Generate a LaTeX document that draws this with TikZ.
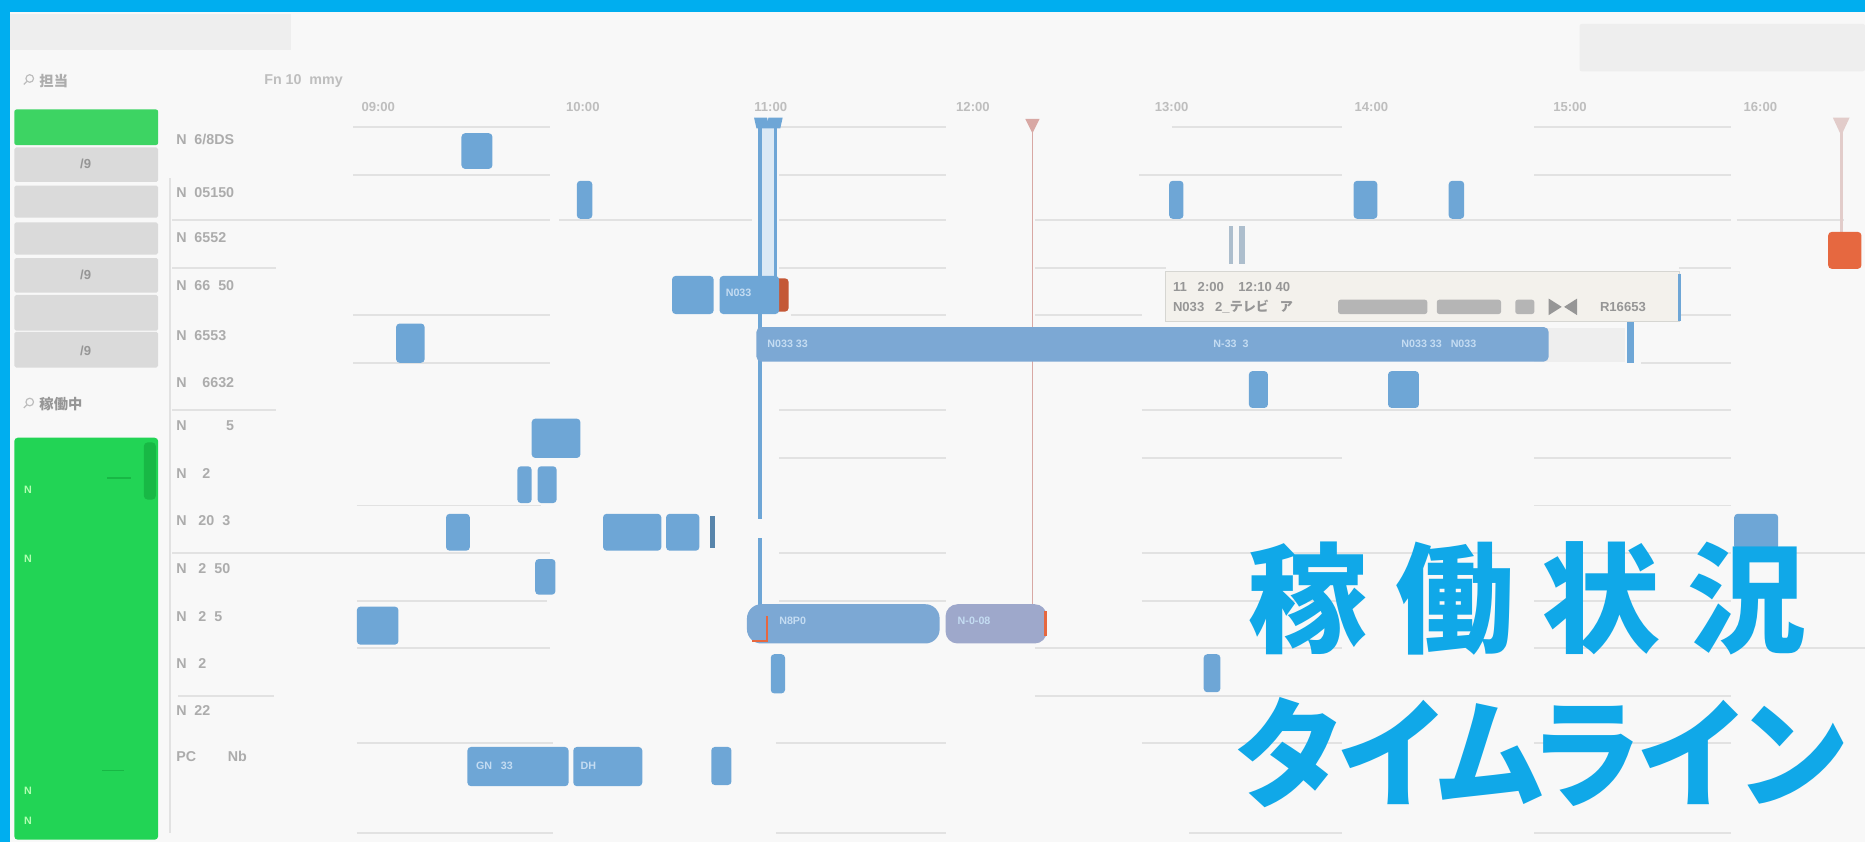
\documentclass[tikz,border=0pt]{standalone}
\usepackage{fontspec}
\setmainfont{Liberation Sans}
\newfontfamily\cjk{Noto Sans CJK JP}
\newfontfamily\cjkt[RawFeature=+palt]{Noto Sans CJK JP}
\definecolor{cyanb}{RGB}{0,174,239}
\definecolor{bgc}{RGB}{248,248,248}
\definecolor{gridc}{RGB}{226,226,226}
\definecolor{lblc}{RGB}{172,172,172}
\definecolor{timec}{RGB}{190,190,190}
\definecolor{barb}{RGB}{110,166,214}
\definecolor{barb2}{RGB}{124,168,212}
\definecolor{barpur}{RGB}{158,168,203}
\definecolor{bartxt}{RGB}{196,220,242}
\definecolor{greenA}{RGB}{61,212,99}
\definecolor{greenB}{RGB}{34,212,85}
\definecolor{greenD}{RGB}{24,184,69}
\definecolor{greyBox}{RGB}{218,218,218}
\definecolor{topBox}{RGB}{238,238,238}
\definecolor{orangeR}{RGB}{230,104,64}
\definecolor{pinkL}{RGB}{216,168,164}
\definecolor{pinkH}{RGB}{226,204,202}
\definecolor{tipfill}{RGB}{243,241,236}
\definecolor{tipedge}{RGB}{214,214,210}
\definecolor{tiptxt}{RGB}{150,150,150}
\definecolor{titlec}{RGB}{16,168,232}
\begin{document}
\begin{tikzpicture}[x=1pt,y=-1pt,
  grid/.style={draw=gridc,line width=1.6pt},
  lbl/.style={anchor=west,text=lblc,font=\bfseries\fontsize{12}{12}\selectfont,inner sep=0pt},
  tlbl/.style={text=timec,font=\bfseries\fontsize{11}{11}\selectfont,inner sep=0pt},
  bluebar/.style={fill=barb,rounded corners=3pt},
  bigbar/.style={fill=barb2,rounded corners=4pt},
  btxt/.style={anchor=west,text=bartxt,font=\bfseries\fontsize{9}{9}\selectfont,inner sep=0pt},
  sidebox/.style={fill=greyBox,rounded corners=1.5pt},
  sidetxt/.style={text=tiptxt,font=\bfseries\fontsize{11}{11}\selectfont,inner sep=0pt},
  ntxt/.style={anchor=west,text=green!30!white,font=\bfseries\fontsize{9}{9}\selectfont,inner sep=0pt},
  tip/.style={anchor=west,text=tiptxt,font=\bfseries\fontsize{11}{11}\selectfont,inner sep=0pt},
  blob/.style={fill=tiptxt!70!white,rounded corners=2pt},
  ttl/.style={text=titlec,font=\cjk\bfseries\fontsize{100}{100}\selectfont,inner sep=0pt},
  ttl2/.style={text=titlec,font=\cjkt\bfseries\fontsize{100}{100}\selectfont,inner sep=0pt}]
\useasboundingbox (0,0) rectangle (1568,708);
\fill[bgc] (0,0) rectangle (1568,708);
\fill[cyanb] (0,0) rectangle (1568,10);
\fill[cyanb] (0,0) rectangle (8,708);
% top boxes
\fill[topBox] (8,12) rectangle (245,42);
\fill[topBox,rounded corners=2pt] (1328,20) rectangle (1568,60);
% top labels
\draw[lblc!80!white,line width=1pt] (25,66) circle (3.2);
\draw[lblc!80!white,line width=1pt] (22.5,68.5) -- (20,71);
\node[lbl] (tant) at (33,68) {{\cjk 担当}};
\node[lbl,text=timec] (fn) at (222,68) {Fn 10\ \ mmy};
% time labels
\foreach \x/\t [count=\i] in {318/09:00,490/10:00,648/11:00,818/12:00,985/13:00,1153/14:00,1320/15:00,1480/16:00}
  \node[tlbl] (time\i) at (\x,90) {\t};
% grid segments
\foreach \y/\a/\b in {107/297/462,107/652/795,107/985/1128,107/1290/1455,
  147/297/462,147/655/795,147/958/1128,147/1290/1455,
  185/145/462,185/470/632,185/655/795,185/870/960,185/960/1128,185/1128/1290,185/1290/1455,185/1460/1550,
  225/145/232,225/655/795,225/870/960,225/960/980,225/1412/1455,
  265/297/462,265/665/795,265/870/960,265/1412/1455,
  305/297/462,305/1380/1455,
  345/145/232,345/655/795,345/960/1128,345/1128/1290,345/1290/1455,
  385/655/795,385/960/1128,385/1290/1455,
  425/300/455,425/1290/1455,
  465/145/462,465/655/795,465/960/1128,465/1128/1290,465/1290/1455,465/1460/1568,
  505/300/460,505/655/795,505/960/1128,505/1290/1455,
  545/300/462,545/870/1128,545/1290/1455,545/1460/1568,
  585/150/230,585/870/1128,585/1128/1290,585/1290/1455,
  625/300/465,625/652/795,625/960/1128,625/1290/1455,
  700/300/465,700/652/795,700/1000/1128,700/1290/1455}
  \draw[grid] (\a,\y) -- (\b,\y);
\draw[gridc,line width=1.2pt] (143,150) -- (143,700);
% sidebar
\fill[greenA,rounded corners=2pt] (12,92) rectangle (133,122);
\foreach \a/\b in {124/153,156/183,187/214,217/246,248/278,279/309}
  \fill[sidebox] (12,\a) rectangle (133,\b);
\node[sidetxt] (s1) at (72,138) {/9};
\node[sidetxt] (s4) at (72,231) {/9};
\node[sidetxt] (s6) at (72,295) {/9};
\draw[lblc!80!white,line width=1pt] (25,338) circle (3.2);
\draw[lblc!80!white,line width=1pt] (22.5,340.5) -- (20,343);
\node[lbl,text=tiptxt] (kado) at (33,340) {{\cjk 稼働中}};
\fill[greenB,rounded corners=3pt] (12,368) rectangle (133,706);
\fill[greenD,rounded corners=3pt] (121,372) rectangle (131,420);
\draw[greenD,line width=1.2pt] (90,402) -- (110,402);
\draw[greenD,line width=1.2pt] (86,648) -- (104,648);
\node[ntxt] (n1) at (20,412) {N};
\node[ntxt] (n2) at (20,470) {N};
\node[ntxt] (n3) at (20,665) {N};
\node[ntxt] (n4) at (20,690) {N};
% row labels
\foreach \y/\t [count=\i] in {117/{N\ \ 6/8DS},162/{N\ \ 05150},200/{N\ \ 6552},240/{N\ \ 66\ \ 50},282/{N\ \ 6553},322/{N\ \ \ \ 6632},358/{N\ \ \ \ \ \ \ \ \ \ 5},398/{N\ \ \ \ 2},438/{N\ \ \ 20\ \ 3},478/{N\ \ \ 2\ \ 50},518/{N\ \ \ 2\ \ 5},558/{N\ \ \ 2},597/{N\ \ 22},636/{PC\ \ \ \ \ \ \ \ Nb}}
  \node[lbl] (row\i) at (148,\y) {\t};
% vertical markers
\fill[barb!25!white] (639,100) rectangle (652,240);
\draw[barb,line width=3pt] (639,101) -- (639,525);
\draw[barb,line width=3pt] (652,101) -- (652,240);
\fill[barb] (634,99) -- (645,99) -- (645.5,103) -- (646,99) -- (658,99) -- (656,108) -- (636,108) -- cycle;
\draw[pinkL,line width=1.5pt] (868,106) -- (868,525);
\fill[pinkL] (862,100) -- (874,100) -- (868,112) -- cycle;
\draw[pinkH,line width=2.5pt] (1548,106) -- (1548,200);
\fill[pinkH] (1541,99) -- (1555,99) -- (1548,114) -- cycle;
\fill[orangeR,rounded corners=3pt] (1537,195) rectangle (1565,226);
% row 1
\fill[bluebar] (388,112) rectangle (414,142);
% row 2
\fill[bluebar] (485,152) rectangle (498,184);
\fill[bluebar] (983,152) rectangle (995,184);
\fill[bluebar] (1138,152) rectangle (1158,184);
\fill[bluebar] (1218,152) rectangle (1231,184);
% row 3
\fill[barb!50!gray!60!white] (1033,190) rectangle (1037,222);
\fill[barb!50!gray!60!white] (1042,190) rectangle (1047,222);
% row 4
\fill[bluebar] (565,232) rectangle (600,264);
\fill[orangeR!85!black,rounded corners=3pt] (640,234) rectangle (663,262);
\fill[bluebar] (605,232) rectangle (655,264);
\node[btxt] (b4) at (610,246) {N033};
% row 5
\fill[bluebar] (333,272) rectangle (357,305);
\fill[topBox] (1290,276) rectangle (1366,304);
\fill[bigbar] (636,275) rectangle (1302,304);
\fill[barb] (1368,270) rectangle (1374,305);
\node[btxt] (b5a) at (645,289) {N033 33};
\node[btxt] (b5b) at (1020,289) {N-33\ \ 3};
\node[btxt] (b5c) at (1178,289) {N033 33\ \ \ N033};
% tooltip
\fill[tipfill,draw=tipedge,line width=1pt] (980,228) rectangle (1412,270);
\draw[barb,line width=2pt] (1412,230) -- (1412,270);
\node[tip] (tip1) at (986,241) {11\ \ \ 2:00\ \ \ \ 12:10 40};
\node[tip] (tip2) at (986,258) {N033\ \ \ 2\_{\cjk テレビ}\ \ \ {\cjk ア}};
\fill[blob] (1125,252) rectangle (1200,264);
\fill[blob] (1208,252) rectangle (1262,264);
\fill[blob] (1274,252) rectangle (1290,264);
\fill[tiptxt] (1302,251) -- (1313,258) -- (1302,265) -- cycle;
\fill[tiptxt] (1326,251) -- (1315,258) -- (1326,265) -- cycle;
\node[tip] (tip3) at (1345,258) {R16653};
% row 6
\fill[bluebar] (1050,312) rectangle (1066,343);
\fill[bluebar] (1167,312) rectangle (1193,343);
% row 7
\fill[bluebar] (447,352) rectangle (488,385);
% row 8
\fill[bluebar] (435,392) rectangle (447,423);
\fill[bluebar] (452,392) rectangle (468,423);
% row 9
\fill[bluebar] (375,432) rectangle (395,463);
\fill[bluebar] (507,432) rectangle (556,463);
\fill[bluebar] (560,432) rectangle (588,463);
\fill[barb!80!black] (597,434) rectangle (601,461);
\fill[bluebar] (1458,432) rectangle (1495,462);
\fill[bgc] (636,436) rectangle (643,452);
% row 10
\fill[bluebar] (450,470) rectangle (467,500);
% row 11
\fill[bluebar] (300,510) rectangle (335,542);
\fill[barb2,rounded corners=12pt] (628,508) rectangle (790,541);
\draw[orangeR,line width=1.5pt] (645,518) -- (645,539) -- (632,539);
\node[btxt] (b11a) at (655,522) {N8P0};
\fill[barpur,rounded corners=10pt] (795,508) rectangle (880,541);
\draw[orangeR,line width=2pt] (879,514) -- (879,535);
\node[btxt] (b11b) at (805,522) {N-0-08};
% row 12
\fill[bluebar] (648,550) rectangle (660,583);
\fill[bluebar] (1012,550) rectangle (1026,582);
% row 14
\fill[bluebar] (393,628) rectangle (478,661);
\node[btxt] (b14a) at (400,644) {GN\ \ \ 33};
\fill[bluebar] (482,628) rectangle (540,661);
\node[btxt] (b14b) at (488,644) {DH};
\fill[bluebar] (598,628) rectangle (615,660);
% title
\node[ttl] (t1) at (1100,503) {稼};
\node[ttl] (t2) at (1223,503) {働};
\node[ttl] (t3) at (1346,503) {状};
\node[ttl] (t4) at (1469,503) {況};
\node[ttl2] (t5) at (1295,633) {\scalebox{0.95}[1]{タイムライン}};
\end{tikzpicture}
\end{document}
